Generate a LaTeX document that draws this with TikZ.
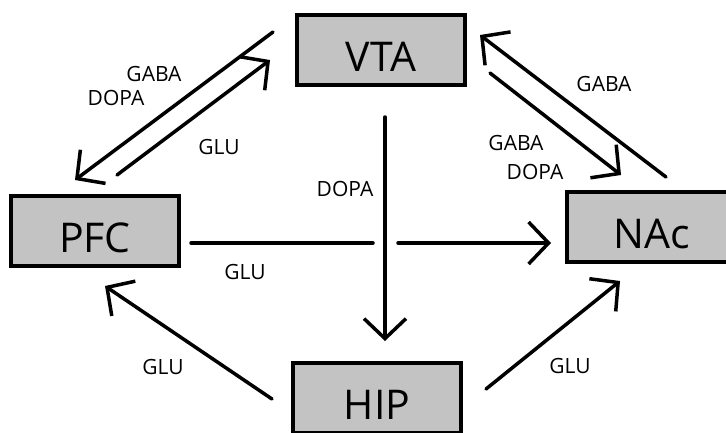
\documentclass[tikz,border=0pt]{standalone}
\usepackage{fontspec}
\setmainfont{Open Sans}
\usetikzlibrary{arrows.meta}
\definecolor{boxgray}{RGB}{195,195,195}

\begin{document}
\begin{tikzpicture}[x=1pt, y=-1pt,
		region/.style={draw, fill=boxgray, line width=3.6pt, minimum width=168pt, minimum height=70pt, inner sep=0pt, text height=42pt, text depth=0pt, font=\fontsize{41}{41}\selectfont},
		link/.style={line width=3.5pt, line cap=round, -{Straight Barb[length=20pt, width=42pt]}},
		plain/.style={line width=3.5pt, line cap=round},
		tag/.style={inner sep=0pt, text height=15pt, text depth=0pt, font=\fontsize{21}{21}\selectfont}]
			\useasboundingbox (0, 0) rectangle (726, 432);

			\node[region] (VTA) at (381, 50) {VTA};
			\node[region] (PFC) at (95, 231) {PFC};
			\node[region, minimum width=170pt] (NAc) at (652, 227) {NAc};
			\node[region] (HIP) at (377, 398) {HIP};

			\coordinate (v1) at (273, 32);
			\coordinate (p1) at (75, 180);
			\coordinate (p2) at (117, 175);
			\coordinate (v2) at (270, 60);
			\coordinate (n1) at (666, 177);
			\coordinate (v3) at (480, 35);
			\coordinate (v4) at (490, 73);
			\coordinate (n2) at (621, 175);
			\coordinate (v5) at (385, 117);
			\coordinate (h1) at (385, 341);
			\coordinate (p3) at (191, 243);
			\coordinate (x1) at (373, 243);
			\coordinate (x2) at (398, 243);
			\coordinate (n3) at (551, 243);
			\coordinate (h2) at (272, 399);
			\coordinate (p4) at (105, 286);
			\coordinate (h3) at (486, 389);
			\coordinate (n4) at (620, 281);

			\draw[link] (v1) -- (p1);
			\draw[link] (p2) -- (v2);
			\draw[link] (n1) -- (v3);
			\draw[link] (v4) -- (n2);
			\draw[link] (v5) -- (h1);
			\draw[plain] (p3) -- (x1);
			\draw[link] (x2) -- (n3);
			\draw[link] (h2) -- (p4);
			\draw[link] (h3) -- (n4);

			\node[tag] (gabaA) at (154, 74) {GABA};
			\node[tag] (dopaA) at (116, 98) {DOPA};
			\node[tag] (gluA) at (219, 147) {GLU};
			\node[tag] (gabaB) at (604, 84) {GABA};
			\node[tag] (gabaC) at (516, 143) {GABA};
			\node[tag] (dopaB) at (535, 172) {DOPA};
			\node[tag] (dopaC) at (345, 189) {DOPA};
			\node[tag] (gluB) at (245, 272) {GLU};
			\node[tag] (gluC) at (163, 367) {GLU};
			\node[tag] (gluD) at (570, 366) {GLU};

		\end{tikzpicture}
\end{document}
